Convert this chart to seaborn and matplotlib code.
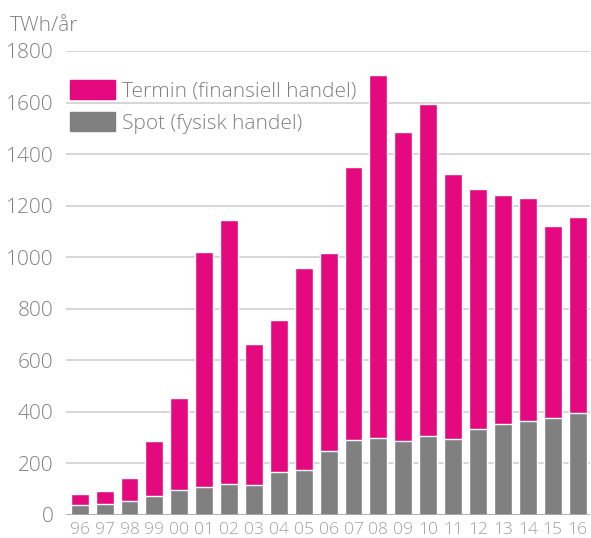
import numpy as np
import pandas as pd
import matplotlib
matplotlib.use('Agg')
import matplotlib.pyplot as plt
import seaborn as sns
from matplotlib.patches import Patch

# values (TWh per year)
years = ['96', '97', '98', '99', '00', '01', '02', '03', '04', '05', '06',
         '07', '08', '09', '10', '11', '12', '13', '14', '15', '16']
spot = [39, 43, 54, 74, 97, 109, 120, 116, 167, 175, 248,
        291, 299, 287, 306, 295, 334, 353, 365, 376, 396]
termin = [42, 50, 89, 213, 357, 911, 1024, 547, 589, 783, 768,
          1059, 1408, 1199, 1288, 1028, 931, 888, 865, 745, 760]
yticks = [0, 200, 400, 600, 800, 1000, 1200, 1400, 1600, 1800]

pink = '#E5097F'
grey = '#808080'
txt = '#808080'

sns.set_style('white')
plt.rcParams['font.family'] = ['Open Sans', 'DejaVu Sans']
plt.rcParams['font.weight'] = 'light'

df = pd.DataFrame({'year': years, 'spot': spot, 'termin': termin})
df['total'] = df['spot'] + df['termin']

fig = plt.figure(figsize=(5.91, 5.38), dpi=100)
ax = fig.add_axes([66 / 591, 1 - 515 / 538, 524 / 591, 464 / 538])

for y in yticks[1:]:
    ax.axhline(y, color='#d0d0d0', lw=1.2, zorder=0)

sns.barplot(data=df, x='year', y='total', color=pink, width=0.72,
            saturation=1, ax=ax, zorder=2)
sns.barplot(data=df, x='year', y='spot', color=grey, width=0.72,
            saturation=1, ax=ax, zorder=3)

ax.axhline(0, color='#a8a8a8', lw=2, zorder=4)
ax.set_ylim(0, 1800)
ax.set_xlim(-0.55, len(years) - 0.5)
ax.set_yticks(yticks)
ax.set_yticklabels([str(v) for v in yticks], fontsize=15, color=txt)
ax.tick_params(axis='y', length=0, pad=9)
ax.tick_params(axis='x', length=0, pad=5, labelsize=12.5, labelcolor='#a0a0a0')
ax.set_xlabel('')
ax.set_ylabel('')
for s in ax.spines.values():
    s.set_visible(False)

fig.text(10 / 591, 1 - 26 / 538, 'TWh/år', fontsize=15, color=txt, va='center', ha='left')

handles = [Patch(color=pink, label='Termin (finansiell handel)'),
           Patch(color=grey, label='Spot (fysisk handel)')]
leg = ax.legend(handles=handles, loc='upper left', bbox_to_anchor=(-0.008, 0.955),
                frameon=False, fontsize=15, handlelength=2.15, handleheight=1.0,
                handletextpad=0.35, labelspacing=0.5, borderaxespad=0)
for t in leg.get_texts():
    t.set_color(txt)

fig.savefig('out.png', dpi=100)
